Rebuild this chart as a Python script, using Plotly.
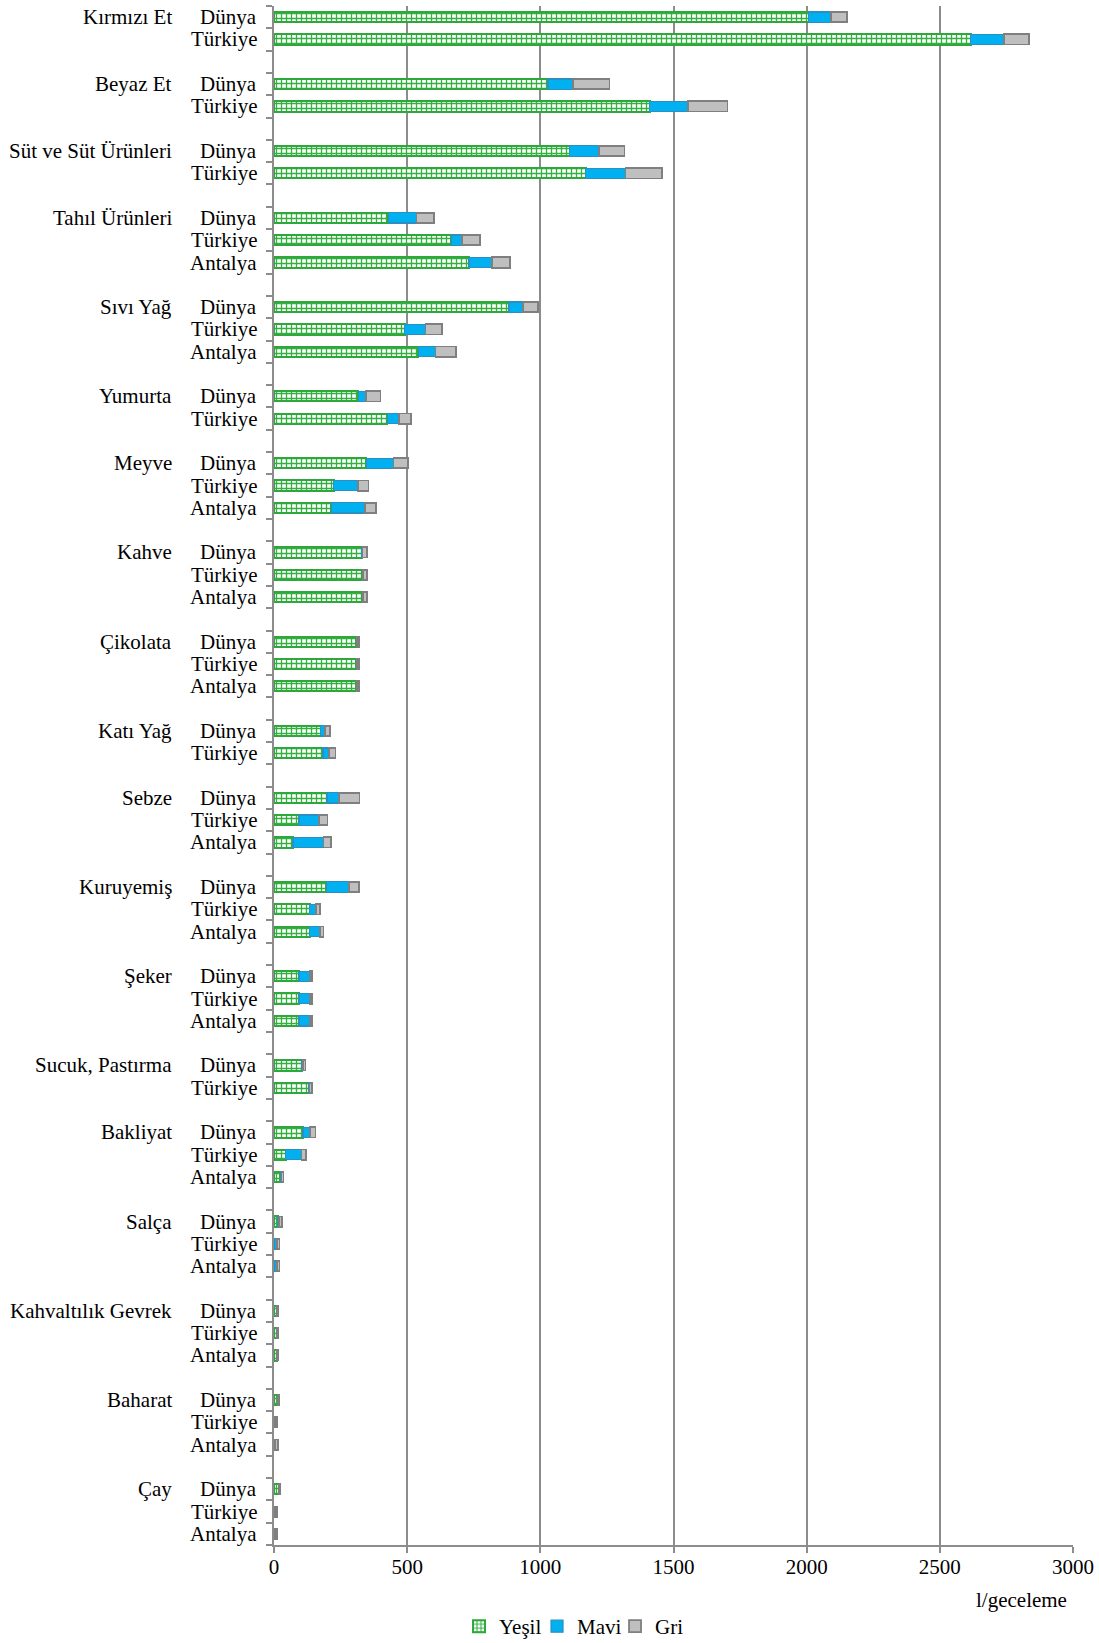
import plotly.graph_objects as go

# ---------------- data ----------------
group_names = ["Kırmızı Et", "Beyaz Et", "Süt ve Süt Ürünleri", "Tahıl Ürünleri", "Sıvı Yağ",
               "Yumurta", "Meyve", "Kahve", "Çikolata", "Katı Yağ", "Sebze", "Kuruyemiş",
               "Şeker", "Sucuk, Pastırma", "Bakliyat", "Salça", "Kahvaltılık Gevrek",
               "Baharat", "Çay"]
group_regions = [
    ["Dünya", "Türkiye"],
    ["Dünya", "Türkiye"],
    ["Dünya", "Türkiye"],
    ["Dünya", "Türkiye", "Antalya"],
    ["Dünya", "Türkiye", "Antalya"],
    ["Dünya", "Türkiye"],
    ["Dünya", "Türkiye", "Antalya"],
    ["Dünya", "Türkiye", "Antalya"],
    ["Dünya", "Türkiye", "Antalya"],
    ["Dünya", "Türkiye"],
    ["Dünya", "Türkiye", "Antalya"],
    ["Dünya", "Türkiye", "Antalya"],
    ["Dünya", "Türkiye", "Antalya"],
    ["Dünya", "Türkiye"],
    ["Dünya", "Türkiye", "Antalya"],
    ["Dünya", "Türkiye", "Antalya"],
    ["Dünya", "Türkiye", "Antalya"],
    ["Dünya", "Türkiye", "Antalya"],
    ["Dünya", "Türkiye", "Antalya"],
]
# values per row, in the same order as the rows above (group by group)
yesil = [2007, 2616, 1029, 1410, 1110, 1170, 429, 666, 732, 882, 491, 542,
         316, 425, 346, 224, 215, 330, 331, 331, 309, 309, 309, 175, 184,
         199, 94, 71, 196, 134, 134, 94, 94, 94, 105, 130, 109, 44, 24,
         14, 2, 2, 11, 11, 11, 14, 0, 0, 17, 0, 0]
mavi = [84, 125, 93, 144, 110, 150, 106, 41, 87, 53, 78, 64,
        28, 43, 103, 90, 127, 2, 2, 2, 2, 2, 2, 15, 22,
        45, 74, 115, 85, 25, 40, 40, 40, 40, 3, 3, 25, 59, 4,
        6, 9, 9, 1, 1, 1, 1, 3, 4, 1, 3, 3]
gri = [59, 94, 138, 149, 96, 136, 65, 65, 68, 56, 63, 76,
       56, 47, 55, 41, 42, 18, 17, 17, 8, 8, 8, 20, 25,
       77, 33, 29, 37, 13, 12, 10, 10, 10, 10, 10, 22, 18, 8,
       11, 10, 10, 5, 5, 5, 6, 9, 11, 6, 9, 9]
x_ticks = [0, 500, 1000, 1500, 2000, 2500, 3000]
x_unit = "l/geceleme"
series_names = ["Yeşil", "Mavi", "Gri"]

# ---------------- layout of rows ----------------
row_pos, row_label, group_pos = [], [], []
slot = 0
for gi, regs in enumerate(group_regions):
    group_pos.append(slot)
    for r in regs:
        row_pos.append(slot)
        row_label.append(r)
        slot += 1
    if gi < len(group_regions) - 1:
        slot += 1  # blank separator row
n_slots = slot

FONT = "Liberation Serif"
GRID = "#8c8c8c"
TXT = dict(family=FONT, size=21, color="black")

fig = go.Figure()
fig.add_trace(go.Bar(
    y=row_pos, x=yesil, orientation="h", name=series_names[0], width=0.46,
    marker=dict(color="white", line=dict(color="#2ea83a", width=2),
                pattern=dict(shape="+", fgcolor="#33b040", bgcolor="white",
                             size=5, solidity=0.45)),
))
fig.add_trace(go.Bar(
    y=row_pos, x=mavi, orientation="h", name=series_names[1], width=0.46,
    marker=dict(color="#00b0f0", line=dict(color="#2b8fbf", width=1.2)),
))
fig.add_trace(go.Bar(
    y=row_pos, x=gri, orientation="h", name=series_names[2], width=0.46,
    marker=dict(color="#bfbfbf", line=dict(color="#7f7f7f", width=1.8)),
))

annotations = []
for p, lab in zip(row_pos, row_label):
    annotations.append(dict(x=-0.019, xref="paper", y=p, yref="y", text=lab,
                            showarrow=False, xanchor="right", yanchor="middle", font=TXT))
for p, g in zip(group_pos, group_names):
    annotations.append(dict(x=-0.125, xref="paper", y=p, yref="y", text=g,
                            showarrow=False, xanchor="right", yanchor="middle", font=TXT))
annotations.append(dict(x=0.995, xref="paper", y=-0.0357, yref="paper", text=x_unit,
                        showarrow=False, xanchor="right", yanchor="middle", font=TXT))

fig.update_layout(
    template="none",
    width=1099, height=1643,
    margin=dict(l=274, r=26, t=6, b=98, autoexpand=False),
    paper_bgcolor="white", plot_bgcolor="white",
    barmode="stack",
    font=TXT,
    annotations=annotations,
    showlegend=True,
    legend=dict(orientation="h", x=0.378, xanchor="center", y=-0.053, yanchor="middle",
                font=TXT, itemwidth=30, tracegroupgap=0, traceorder="normal",
                entrywidth=33, entrywidthmode="pixels",
                bgcolor="rgba(0,0,0,0)"),
    xaxis=dict(range=[0, 3000], tickvals=x_ticks, showgrid=True, gridcolor=GRID, gridwidth=1.5,
               showline=True, linecolor=GRID, linewidth=2, ticks="outside", ticklen=6,
               tickcolor=GRID, tickwidth=2, zeroline=False, automargin=False,
               ticklabelstandoff=-4, tickfont=TXT),
    yaxis=dict(range=[n_slots - 0.5, -0.5], showgrid=False, zeroline=False,
               showline=True, linecolor=GRID, linewidth=2, ticks="outside", ticklen=6,
               tickcolor=GRID, tickwidth=2, automargin=False,
               tickvals=[i - 0.5 for i in range(n_slots + 1)], showticklabels=False),
)

fig.write_html("out.html", config={"displayModeBar": False},
               post_script="document.body.style.margin='0px';document.body.style.overflow='hidden';")
